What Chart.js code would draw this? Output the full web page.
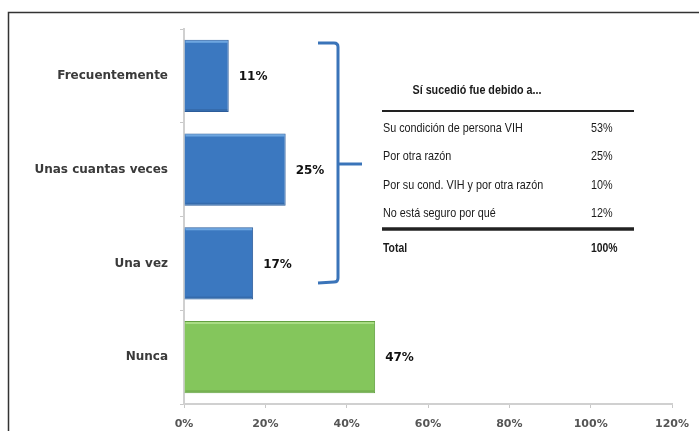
<!DOCTYPE html>
<html lang="es">
<head>
  <meta charset="UTF-8">
  <title>Discriminación</title>
  <style>
    html, body { margin: 0; padding: 0; background: #fff; }
    #wrap { width: 699px; height: 431px; position: relative; }
  </style>
  <script src="https://cdn.jsdelivr.net/npm/chart.js"></script>
</head>
<body>
  <div id="wrap"><canvas id="chart"></canvas></div>

  <script>
    // chart data
    const categories = ['Frecuentemente', 'Unas cuantas veces', 'Una vez', 'Nunca'];
    const values = [0.11, 0.25, 0.17, 0.47];
    const barColors = ['#3b78c0', '#3b78c0', '#3b78c0', '#84c65c'];
    const barEdges = ['#2b5c9a', '#2b5c9a', '#2b5c9a', '#62a040'];
    const barTops = ['#6ea6e0', '#6ea6e0', '#6ea6e0', '#aadd85'];

    // side table
    const tableTitle = 'Sí sucedió fue debido a...';
    const reasons = ['Su condición de persona VIH', 'Por otra razón', 'Por su cond. VIH y por otra razón', 'No está seguro por qué'];
    const reasonShares = ['53%', '25%', '10%', '12%'];
    const totalLabel = 'Total';
    const totalShare = '100%';

    // frame, bar highlights, value labels, brace and table
    const extras = {
      id: 'extras',
      beforeDraw(chart) {
        const ctx = chart.ctx;
        ctx.save();
        ctx.strokeStyle = '#333';
        ctx.lineWidth = 1.5;
        ctx.beginPath();
        ctx.moveTo(8.5, 431);
        ctx.lineTo(8.5, 12.5);
        ctx.lineTo(699, 12.5);
        ctx.stroke();
        ctx.restore();
      },
      afterDatasetsDraw(chart) {
        const ctx = chart.ctx;
        const meta = chart.getDatasetMeta(0);
        ctx.save();
        meta.data.forEach((bar, i) => {
          const top = bar.y - bar.height / 2;
          const left = bar.base;
          ctx.fillStyle = barTops[i];
          ctx.fillRect(left + 1, top + 1, bar.x - left - 2, 2);
          ctx.fillStyle = 'rgba(0,0,0,0.10)';
          ctx.fillRect(left + 1, top + bar.height - 3, bar.x - left - 2, 2);

          ctx.fillStyle = '#111';
          ctx.font = 'bold 12px "DejaVu Sans"';
          ctx.textBaseline = 'middle';
          ctx.textAlign = 'left';
          ctx.fillText(Math.round(values[i] * 100) + '%', bar.x + 10, bar.y + 1);
        });
        ctx.restore();
      },
      afterDraw(chart) {
        const ctx = chart.ctx;
        ctx.save();

        // brace over the first three bars
        ctx.strokeStyle = '#3a74b9';
        ctx.lineWidth = 3;
        ctx.lineJoin = 'round';
        ctx.beginPath();
        ctx.moveTo(318, 43);
        ctx.lineTo(334, 43);
        ctx.quadraticCurveTo(338, 43, 338, 47);
        ctx.lineTo(338, 278);
        ctx.quadraticCurveTo(338, 282, 334, 282);
        ctx.lineTo(318, 283);
        ctx.stroke();
        ctx.beginPath();
        ctx.moveTo(339, 164);
        ctx.lineTo(362, 164);
        ctx.stroke();

        // table
        const x0 = 382, x1 = 634, xv = 591;
        function txt(s, x, y, font, sx, align) {
          ctx.save();
          ctx.font = font;
          ctx.textBaseline = 'middle';
          ctx.textAlign = align || 'left';
          ctx.translate(x, y);
          ctx.scale(sx, 1);
          ctx.fillText(s, 0, 0);
          ctx.restore();
        }
        ctx.fillStyle = '#1a1a1a';
        txt(tableTitle, 477, 91, 'bold 12.5px "Liberation Sans"', 0.86, 'center');
        ctx.strokeStyle = '#222';
        ctx.lineWidth = 2;
        ctx.beginPath();
        ctx.moveTo(x0, 111);
        ctx.lineTo(x1, 111);
        ctx.stroke();
        const rowY = [128, 156, 185, 213];
        reasons.forEach((r, i) => {
          txt(r, 383, rowY[i], '13px "Liberation Sans"', 0.83);
          txt(reasonShares[i], xv, rowY[i], '13px "Liberation Sans"', 0.83);
        });
        ctx.lineWidth = 3.5;
        ctx.beginPath();
        ctx.moveTo(x0, 229);
        ctx.lineTo(x1, 229);
        ctx.stroke();
        txt(totalLabel, 383, 248, 'bold 13px "Liberation Sans"', 0.8);
        txt(totalShare, xv, 248, 'bold 13px "Liberation Sans"', 0.8);
        ctx.restore();
      }
    };

    new Chart(document.getElementById('chart'), {
      type: 'bar',
      data: {
        labels: categories,
        datasets: [{
          data: values,
          backgroundColor: barColors,
          borderColor: barEdges,
          borderWidth: 1,
          barPercentage: 0.77,
          categoryPercentage: 1
        }]
      },
      options: {
        indexAxis: 'y',
        responsive: true,
        maintainAspectRatio: false,
        animation: false,
        layout: { padding: { top: 29, right: 26, left: 0, bottom: 0 } },
        plugins: { legend: { display: false }, tooltip: { enabled: false } },
        scales: {
          x: {
            min: 0,
            max: 1.2,
            ticks: {
              stepSize: 0.2,
              color: '#555',
              font: { family: 'DejaVu Sans', size: 11, weight: 'bold' },
              padding: 10,
              callback: v => Math.round(v * 100) + '%'
            },
            grid: { drawOnChartArea: false, tickLength: 4, color: '#c8c8c8' },
            border: { color: '#d0d0d0', width: 2 },
            afterFit(scale) { scale.height = 27; }
          },
          y: {
            ticks: {
              color: '#3a3a3a',
              font: { family: 'DejaVu Sans', size: 12, weight: 'bold' },
              padding: 12
            },
            grid: { drawOnChartArea: false, tickLength: 4, color: '#c8c8c8' },
            border: { color: '#d0d0d0', width: 2 },
            afterFit(scale) { scale.width = 184; }
          }
        }
      },
      plugins: [extras]
    });
  </script>
</body>
</html>
